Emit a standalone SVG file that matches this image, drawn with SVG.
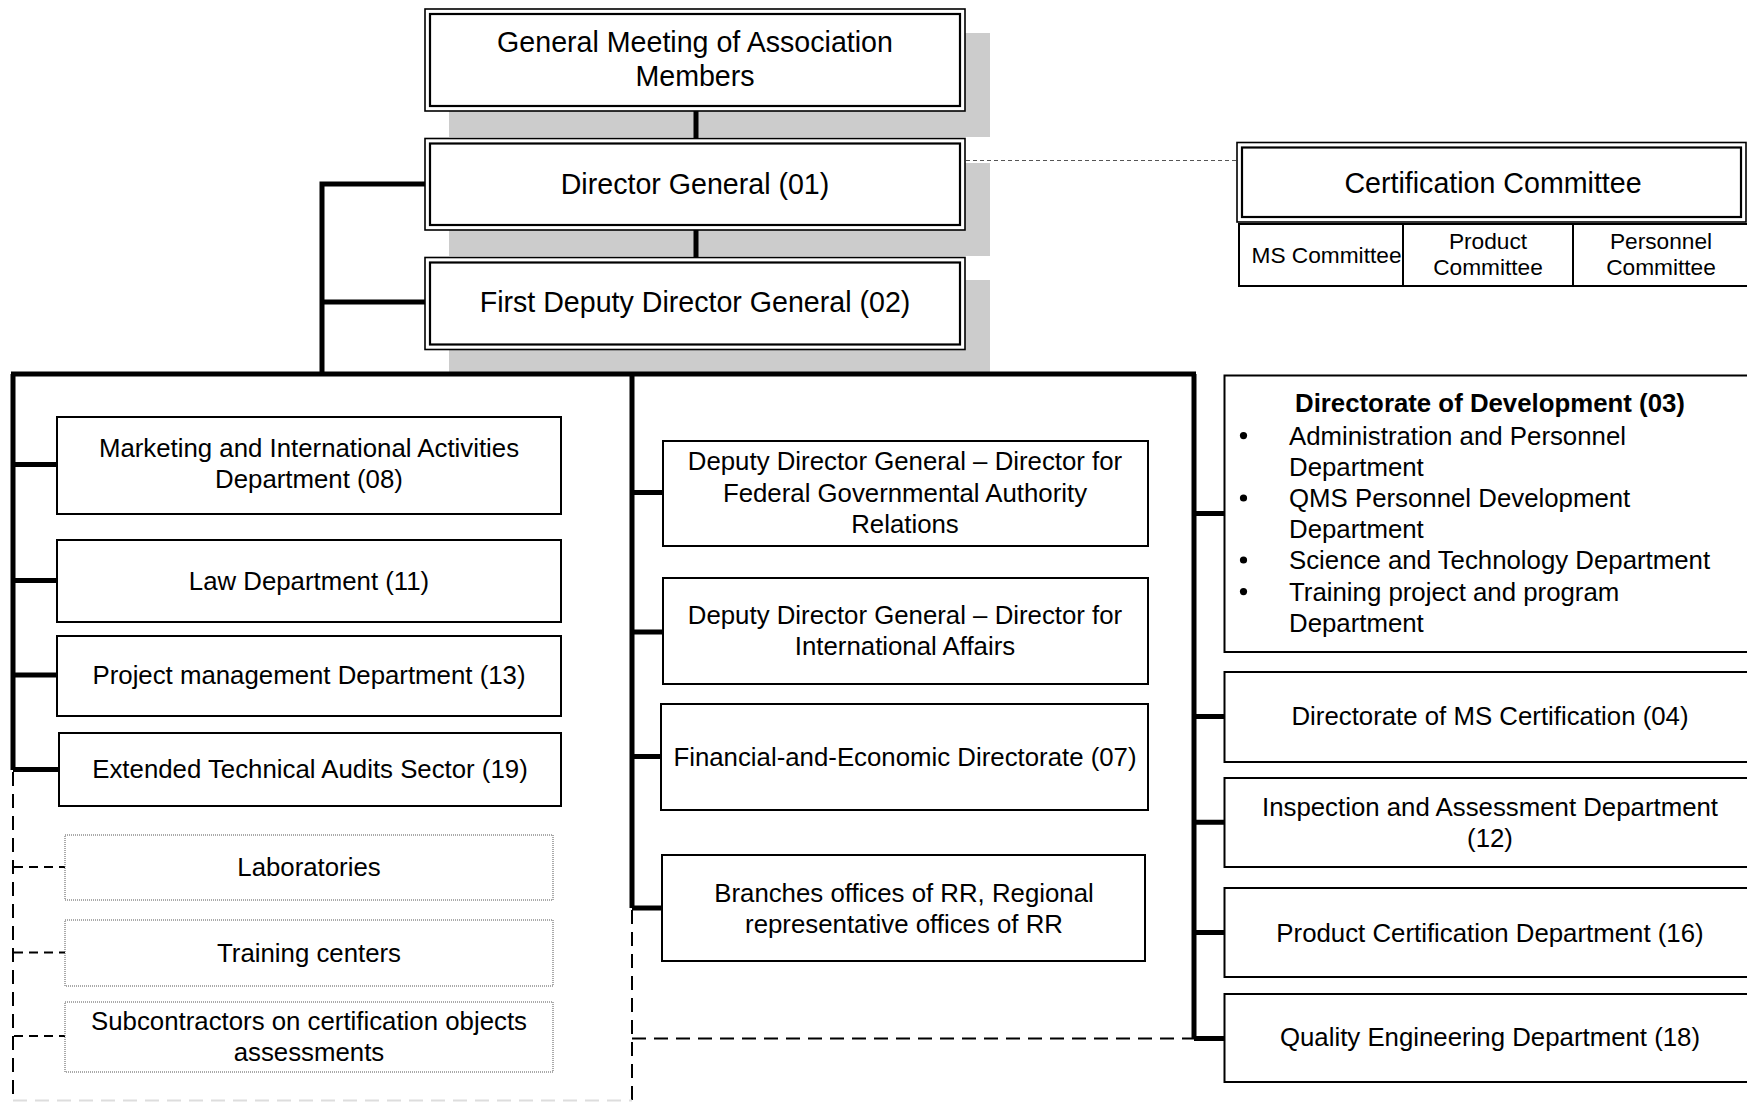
<svg xmlns="http://www.w3.org/2000/svg" width="1747" height="1102" viewBox="0 0 1747 1102">
  <style>
    .bg { fill: #ffffff; }
    .shadow { fill: #cccccc; }
    .box { fill: #ffffff; stroke: #000000; stroke-width: 2; }
    .outer { fill: #ffffff; stroke: #000000; stroke-width: 1.6; }
    .inner { fill: #ffffff; stroke: #000000; stroke-width: 2.2; }
    .dotted { fill: #ffffff; stroke: #555555; stroke-width: 1; stroke-dasharray: 1 1; }
    .thick { fill: none; stroke: #000000; stroke-width: 5; }
    .dash { fill: none; stroke: #000000; stroke-width: 2; stroke-dasharray: 14 8; }
    .stub { fill: none; stroke: #000000; stroke-width: 2; stroke-dasharray: 9 6; }
    .faint { fill: none; stroke: #dddddd; stroke-width: 2; stroke-dasharray: 14 8; }
    .link { fill: none; stroke: #555555; stroke-width: 1; stroke-dasharray: 4 3; }
    text { font-family: "Liberation Sans", Arial, sans-serif; fill: #000000; dominant-baseline: central; }
    .t1 { font-size: 28.6px; text-anchor: middle; }
    .t2 { font-size: 25.8px; text-anchor: middle; }
    .t3 { font-size: 22.7px; text-anchor: middle; }
    .list { font-size: 25.8px; }
    .title { font-size: 25.8px; font-weight: bold; }
  </style>

  <rect class="bg" x="0" y="0" width="1747" height="1102"/>

  <!-- drop shadows behind the top management boxes -->
  <g id="shadows">
    <rect class="shadow" x="449" y="33" width="541" height="104"/>
    <rect class="shadow" x="449" y="163" width="541" height="93"/>
    <rect class="shadow" x="449" y="280" width="541" height="92"/>
  </g>

  <!-- connectors -->
  <g id="connectors">
    <path class="thick" d="M696 111 V139 M696 230 V258"/>
    <path class="thick" d="M425 184 H322 V374 M322 302 H425"/>
    <path class="thick" d="M11 374 H1196"/>
    <path class="thick" d="M13 374 V770"/>
    <path class="thick" d="M13 464.6 H57 M13 580.5 H57 M13 675 H57 M13 769.5 H59"/>
    <path class="thick" d="M632 374 V908"/>
    <path class="thick" d="M632 492.5 H663 M632 632 H663 M632 756.5 H661 M632 908 H662"/>
    <path class="thick" d="M1194 374 V1038.4"/>
    <path class="thick" d="M1194 513.6 H1225 M1194 716.4 H1225 M1194 822.3 H1225 M1194 932.6 H1225 M1194 1038.4 H1225"/>
    <path class="dash" d="M13 772 V1100 M632 910 V1100"/>
    <path class="faint" d="M13 1100.5 H632"/>
    <path class="dash" d="M632 1038.4 H1194"/>
    <path class="stub" d="M14 867 H65 M14 952.5 H65 M14 1036 H65"/>
    <path class="link" d="M966 160.5 H1237"/>
  </g>

  <!-- top management -->
  <g id="general-meeting">
    <rect class="outer" x="425" y="9" width="540" height="102"/>
    <rect class="inner" x="430" y="14" width="530" height="92"/>
    <text class="t1" x="695" y="42.3">General Meeting of Association</text>
    <text class="t1" x="695" y="75.8">Members</text>
  </g>
  <g id="director-general">
    <rect class="outer" x="425" y="138.5" width="540" height="91.5"/>
    <rect class="inner" x="430" y="143.5" width="530" height="81.5"/>
    <text class="t1" x="695" y="183.8">Director General (01)</text>
  </g>
  <g id="first-deputy">
    <rect class="outer" x="425" y="257.5" width="540" height="92"/>
    <rect class="inner" x="430" y="262.5" width="530" height="82"/>
    <text class="t1" x="695" y="302">First Deputy Director General (02)</text>
  </g>

  <!-- certification committee with its three sub-committees -->
  <g id="certification-committee">
    <rect class="outer" x="1237" y="142.5" width="509" height="79.5"/>
    <rect class="inner" x="1242" y="147.5" width="499" height="69.5"/>
    <text class="t1" x="1493" y="182.7">Certification Committee</text>
  </g>
  <g id="sub-committees">
    <rect class="box" x="1239" y="224" width="520" height="62"/>
    <path class="box" d="M1403 224 V286 M1573 224 V286"/>
    <text class="t3" x="1326.5" y="255.2">MS Committee</text>
    <text class="t3" x="1488" y="240.7">Product</text>
    <text class="t3" x="1488" y="267.4">Committee</text>
    <text class="t3" x="1661" y="240.7">Personnel</text>
    <text class="t3" x="1661" y="267.4">Committee</text>
  </g>

  <!-- left column -->
  <g id="marketing">
    <rect class="box" x="57" y="417" width="504" height="97"/>
    <text class="t2" x="309" y="448">Marketing and International Activities</text>
    <text class="t2" x="309" y="479">Department (08)</text>
  </g>
  <g id="law">
    <rect class="box" x="57" y="540" width="504" height="82"/>
    <text class="t2" x="309" y="580.5">Law Department (11)</text>
  </g>
  <g id="project-management">
    <rect class="box" x="57" y="636" width="504" height="80"/>
    <text class="t2" x="309" y="675">Project management Department (13)</text>
  </g>
  <g id="technical-audits">
    <rect class="box" x="59" y="733" width="502" height="73"/>
    <text class="t2" x="310" y="769">Extended Technical Audits Sector (19)</text>
  </g>
  <g id="laboratories">
    <rect class="dotted" x="65" y="835" width="488" height="65"/>
    <text class="t2" x="309" y="867">Laboratories</text>
  </g>
  <g id="training-centers">
    <rect class="dotted" x="65" y="920" width="488" height="66"/>
    <text class="t2" x="309" y="952.6">Training centers</text>
  </g>
  <g id="subcontractors">
    <rect class="dotted" x="65" y="1002" width="488" height="70"/>
    <text class="t2" x="309" y="1020.6">Subcontractors on certification objects</text>
    <text class="t2" x="309" y="1052">assessments</text>
  </g>

  <!-- middle column -->
  <g id="deputy-federal">
    <rect class="box" x="663" y="441" width="485" height="105"/>
    <text class="t2" x="905" y="461">Deputy Director General – Director for</text>
    <text class="t2" x="905" y="492.5">Federal Governmental Authority</text>
    <text class="t2" x="905" y="523.7">Relations</text>
  </g>
  <g id="deputy-international">
    <rect class="box" x="663" y="578" width="485" height="106"/>
    <text class="t2" x="905" y="615">Deputy Director General – Director for</text>
    <text class="t2" x="905" y="646">International Affairs</text>
  </g>
  <g id="financial">
    <rect class="box" x="661" y="704" width="487" height="106"/>
    <text class="t2" x="905" y="756.5">Financial-and-Economic Directorate (07)</text>
  </g>
  <g id="branches">
    <rect class="box" x="662" y="855" width="483" height="106"/>
    <text class="t2" x="904" y="892.5">Branches offices of RR, Regional</text>
    <text class="t2" x="904" y="923.7">representative offices of RR</text>
  </g>

  <!-- right column -->
  <g id="development">
    <rect class="box" x="1224.5" y="375.5" width="540" height="276.5"/>
    <text class="title" x="1295" y="403">Directorate of Development (03)</text>
    <circle cx="1243.5" cy="435.6" r="3.6"/>
    <circle cx="1243.5" cy="498" r="3.6"/>
    <circle cx="1243.5" cy="560" r="3.6"/>
    <circle cx="1243.5" cy="591.6" r="3.6"/>
    <text class="list" x="1289" y="435.6">Administration and Personnel</text>
    <text class="list" x="1289" y="466.8">Department</text>
    <text class="list" x="1289" y="498">QMS Personnel Development</text>
    <text class="list" x="1289" y="529">Department</text>
    <text class="list" x="1289" y="560">Science and Technology Department</text>
    <text class="list" x="1289" y="591.6">Training project and program</text>
    <text class="list" x="1289" y="622.8">Department</text>
  </g>
  <g id="ms-certification">
    <rect class="box" x="1224.5" y="672" width="540" height="90"/>
    <text class="t2" x="1490" y="716.4">Directorate of MS Certification (04)</text>
  </g>
  <g id="inspection">
    <rect class="box" x="1224.5" y="778" width="540" height="89"/>
    <text class="t2" x="1490" y="806.7">Inspection and Assessment Department</text>
    <text class="t2" x="1490" y="838">(12)</text>
  </g>
  <g id="product-certification">
    <rect class="box" x="1224.5" y="888" width="540" height="89"/>
    <text class="t2" x="1490" y="932.6">Product Certification Department (16)</text>
  </g>
  <g id="quality-engineering">
    <rect class="box" x="1224.5" y="994" width="540" height="88"/>
    <text class="t2" x="1490" y="1037">Quality Engineering Department (18)</text>
  </g>
</svg>
